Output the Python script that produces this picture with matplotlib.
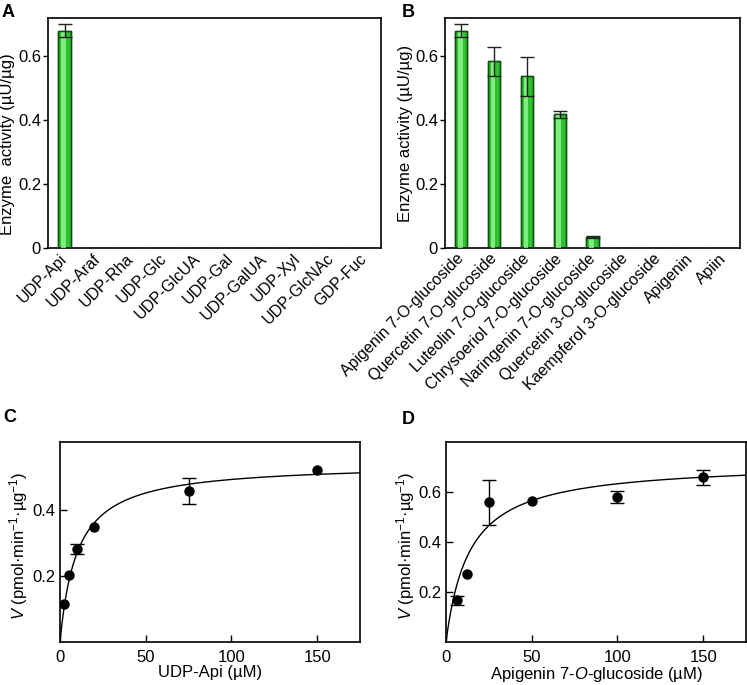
import numpy as np
import matplotlib
matplotlib.use("Agg")
import matplotlib.pyplot as plt

plt.rcParams['font.family'] = ['Liberation Sans', 'DejaVu Sans']
plt.rcParams['mathtext.fontset'] = 'custom'
plt.rcParams['mathtext.rm'] = 'Liberation Sans'
plt.rcParams['mathtext.it'] = 'Liberation Sans:italic'
plt.rcParams['axes.linewidth'] = 1.2

# ---- data ----
donors = ['UDP-Api', 'UDP-Araf', 'UDP-Rha', 'UDP-Glc', 'UDP-GlcUA', 'UDP-Gal',
          'UDP-GalUA', 'UDP-Xyl', 'UDP-GlcNAc', 'GDP-Fuc']
donor_act = [0.68, 0, 0, 0, 0, 0, 0, 0, 0, 0]
donor_err = [0.02, 0, 0, 0, 0, 0, 0, 0, 0, 0]

acceptors = ['Apigenin 7-O-glucoside', 'Quercetin 7-O-glucoside', 'Luteolin 7-O-glucoside',
             'Chrysoeriol 7-O-glucoside', 'Naringenin 7-O-glucoside', 'Quercetin 3-O-glucoside',
             'Kaempferol 3-O-glucoside', 'Apigenin', 'Apiin']
acc_act = [0.68, 0.585, 0.537, 0.418, 0.034, 0, 0, 0, 0]
acc_err = [0.02, 0.045, 0.06, 0.012, 0.003, 0, 0, 0, 0]

udp_conc = [2.5, 5, 10, 20, 75, 150]
udp_v = [0.114, 0.202, 0.28, 0.348, 0.456, 0.518]
udp_err = [0, 0, 0.015, 0, 0.038, 0]
udp_vmax, udp_km = 0.54, 10.0

a7g_conc = [6.25, 12.5, 25, 50, 100, 150]
a7g_v = [0.167, 0.274, 0.559, 0.564, 0.58, 0.66]
a7g_err = [0.017, 0, 0.09, 0, 0.025, 0.03]
a7g_vmax, a7g_km = 0.719, 13.6

W, H = 747, 685
fig = plt.figure(figsize=(W / 100, H / 100), dpi=100)

def frac(l, t, r, b):
    return [l / W, 1 - b / H, (r - l) / W, (b - t) / H]

axA = fig.add_axes(frac(48, 18, 381, 248))
axB = fig.add_axes(frac(445, 18, 740, 248))
axC = fig.add_axes(frac(60, 442, 360, 642))
axD = fig.add_axes(frac(446, 442, 746, 642))

def bar_panel(ax, cats, vals, errs):
    x = np.arange(len(cats))
    ax.bar(x, vals, width=0.37, color='#2ec22e', edgecolor='#0f4f0f', linewidth=1.0, zorder=2)
    ax.bar(x - 0.03, vals, width=0.14, color='#80ec80', linewidth=0, zorder=3)
    ax.bar(x, vals, width=0.37, color='none', edgecolor='#0f4f0f', linewidth=1.0, zorder=4)
    xs = [xi for xi, e in zip(x, errs) if e > 0]
    ys = [v for v, e in zip(vals, errs) if e > 0]
    es = [e for e in errs if e > 0]
    ax.errorbar(xs, ys, yerr=es, fmt='none', ecolor='#222222', elinewidth=1.0,
                capsize=5, capthick=1.0, zorder=5)
    ax.set_xlim(-0.5, len(cats) - 0.5)
    ax.set_ylim(0, 0.72)
    ax.set_yticks([0, 0.2, 0.4, 0.6])
    ax.set_yticklabels(['0', '0.2', '0.4', '0.6'])
    ax.set_xticks(x)
    ax.set_xticklabels(cats, rotation=45, ha='right', va='center', rotation_mode='anchor',
                       fontsize=11.5)
    ax.tick_params(axis='x', length=0, pad=6)
    ax.tick_params(axis='y', direction='out', length=3.5, width=1.0, pad=1.5, labelsize=12)

bar_panel(axA, donors, donor_act, donor_err)
bar_panel(axB, acceptors, acc_act, acc_err)
axA.set_ylabel('Enzyme  activity (µU/µg)', fontsize=12)
axA.yaxis.set_label_coords(-0.099, 0.45)
axB.set_ylabel('Enzyme activity (µU/µg)', fontsize=12)
axB.yaxis.set_label_coords(-0.108, 0.5)

def kin_panel(ax, conc, v, err, vmax, km, ylim, yticks, xlabel):
    xc = np.linspace(0, 175, 400)
    ax.plot(xc, vmax * xc / (km + xc), color='black', lw=1.0, zorder=2)
    ax.plot(conc, v, 'o', color='black', markersize=6.5, zorder=3)
    xs = [c for c, e in zip(conc, err) if e > 0]
    ys = [y for y, e in zip(v, err) if e > 0]
    es = [e for e in err if e > 0]
    ax.errorbar(xs, ys, yerr=es, fmt='none', ecolor='black', elinewidth=1.0,
                capsize=5, capthick=1.0, zorder=3)
    ax.set_xlim(0, 175)
    ax.set_ylim(*ylim)
    ax.set_xticks([0, 50, 100, 150])
    ax.set_yticks(yticks)
    ax.set_yticklabels(['%.1f' % t for t in yticks])
    ax.tick_params(direction='in', length=5, width=1.0, labelsize=12)
    ax.tick_params(axis='x', pad=6)
    ax.tick_params(axis='y', pad=3)
    ax.set_ylabel(r'$V$ (pmol·min$^{\mathregular{-1}}$·µg$^{\mathregular{-1}}$)', fontsize=12)
    ax.set_xlabel(xlabel, fontsize=12)
    ax.xaxis.set_label_coords(0.5, -0.115)

kin_panel(axC, udp_conc, udp_v, udp_err, udp_vmax, udp_km, (0, 0.604), [0.2, 0.4],
          'UDP-Api (µM)')
axC.yaxis.set_label_coords(-0.10, 0.48)
kin_panel(axD, a7g_conc, a7g_v, a7g_err, a7g_vmax, a7g_km, (0, 0.8), [0.2, 0.4, 0.6],
          r'Apigenin 7-$O$-glucoside (µM)')
axD.yaxis.set_label_coords(-0.097, 0.48)

for lbl, x, y in [('A', 2, 4), ('B', 402, 4), ('C', 3, 409), ('D', 402, 411)]:
    fig.text(x / W, 1 - y / H, lbl, fontsize=13, fontweight='bold', ha='left', va='top')

fig.savefig('out.png', dpi=100)
